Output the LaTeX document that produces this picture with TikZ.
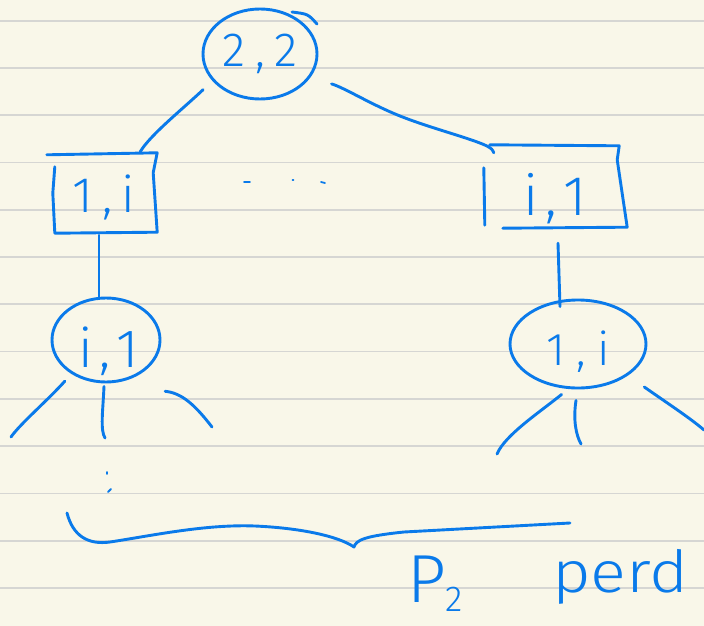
\documentclass[tikz,border=0pt]{standalone}
\usepackage{fontspec}
\usepackage{graphicx}
\setmainfont{Fira Sans}[UprightFont=* Light]
\usetikzlibrary{shapes.geometric}
\definecolor{paper}{RGB}{249,247,233}
\definecolor{ruling}{RGB}{214,214,211}
\definecolor{ink}{RGB}{10,122,234}

\begin{document}
\begin{tikzpicture}[x=1pt,y=-1pt,
  pen/.style={draw=ink, line width=2.9pt, line cap=round, line join=round},
  fine/.style={draw=ink, line width=1.8pt, line cap=round},
  hand/.style={text=ink, font=\fontsize{#1}{#1}\selectfont},
  oval/.style={ellipse, pen, inner sep=0pt},
  frame/.style={rectangle, inner sep=0pt, text depth=0pt},
]
% ruled paper
\fill[paper] (0,0) rectangle (704,626);
\useasboundingbox (0,0) rectangle (704,626);
\foreach \k in {0,...,12}
  \draw[ruling, line width=1.7pt] (0,{20.7+47.27*\k}) -- (704,{20.7+47.27*\k});

% nodes
\node[oval, hand=48, minimum width=114pt, minimum height=90pt] (root) at (260,54)
  {2\hspace{10pt},\hspace{10pt}2};
\node[frame, hand=50, text height=38pt, minimum width=104pt, minimum height=78pt] (lbox) at (104,193)
  {1\hspace{9pt},\hspace{9pt}i};
\node[frame, hand=56, text height=56pt, minimum width=140pt, minimum height=80pt] (rbox) at (555,187)
  {i\hspace{7pt},\hspace{7pt}1};
\node[oval, hand=54, text height=54pt, text depth=0pt, minimum width=108pt, minimum height=84pt] (lell) at (106,340)
  {\hspace{6pt}i\hspace{6pt},\hspace{6pt}1};
\node[oval, hand=46, text height=42pt, text depth=0pt, minimum width=136pt, minimum height=88pt] (rell) at (578,344)
  {1\hspace{11pt},\hspace{11pt}i\hspace{10pt}};

% hand-drawn box outlines
\draw[pen] ([shift={(-5,1)}]lbox.north west) -- ([shift={(1,-1)}]lbox.north east)
  -- ([shift={(-3,19)}]lbox.north east) -- ([shift={(1,0)}]lbox.south east)
  -- ([shift={(3,1)}]lbox.south west) -- ([shift={(1,-39)}]lbox.south west)
  -- ([shift={(3,13)}]lbox.north west);
\draw[pen] ([shift={(5,-2)}]rbox.north west) -- ([shift={(-6,-1)}]rbox.north east)
  -- ([shift={(-8,13)}]rbox.north east) -- ([shift={(2,0)}]rbox.south east)
  -- ([shift={(18,1)}]rbox.south west);
\draw[pen] ([shift={(-1,21)}]rbox.north west) -- ([shift={(0,-2)}]rbox.south west);

% stroke overrun on the root circle
\draw[pen] ([shift={(32,-42)}]root.center) .. controls ([shift={(48,-40)}]root.center) .. ([shift={(57,-30)}]root.center);

% connectors
\draw[pen] ([shift={(-11,7)}]root.212) .. controls (185,107) and (150,135) .. ([shift={(-16,-2)}]lbox.north east);
\draw[pen] ([shift={(20,8)}]root.-23) .. controls (345,88) and (370,104) .. (400,116)
  .. controls (430,128) and (470,138) .. (487,146) .. controls (492,149) .. ([shift={(9,6)}]rbox.north west);
\draw[pen] ([shift={(-5,3)}]lbox.south) -- ([shift={(-7,2)}]lell.north);
\draw[pen] ([shift={(3,16)}]rbox.south) -- ([shift={(-18,8)}]rell.north);

% open child edges
\coordinate (l1) at (11,437);
\coordinate (l2) at (105,438);
\coordinate (l3) at (212,427);
\coordinate (r1) at (497,454);
\coordinate (r2) at (581,444);
\coordinate (r3) at (704,430);
\draw[pen] ([shift={(-7,7)}]lell.225) .. controls (48,400) and (20,424) .. (l1);
\draw[pen] ([shift={(-2,3)}]lell.south) .. controls (103,410) and (100,430) .. (l2);
\draw[pen] ([shift={(22,19)}]lell.-41) .. controls (182,393) and (195,405) .. (l3);
\draw[pen] ([shift={(-2,6)}]rell.252) .. controls (540,412) and (505,435) .. (r1);
\draw[pen] ([shift={(-2,11)}]rell.south) .. controls (573,420) and (576,435) .. (r2);
\draw[pen] ([shift={(17,11)}]rell.-33) .. controls (670,405) and (690,418) .. (r3);

% ellipsis marks
\draw[fine] (244,182) -- (250,182);
\draw[fine] (292.5,180) -- (293.5,180);
\draw[fine] (321,182) -- (325,183);
\draw[fine] (107,472) -- (107,474);
\draw[fine] (108,492) -- (111,489);

% brace under the lower level
\draw[pen] (67,513) .. controls (73,536) and (88,545) .. (110,542)
  .. controls (150,536) and (205,524) .. (255,526)
  .. controls (300,528) and (338,536) .. (354,547)
  .. controls (356,540) and (365,536) .. (404,532) -- (570,523);

% labels under the brace
\node[hand=68, inner sep=0pt, anchor=base west] (ptwo) at (407,602)
  {P\raisebox{-9pt}{\fontsize{36}{36}\selectfont 2}};
\node[hand=58, inner sep=0pt, anchor=base west] (perd) at (552,592)
  {\scalebox{1.15}[1]{perd}};
\end{tikzpicture}
\end{document}
